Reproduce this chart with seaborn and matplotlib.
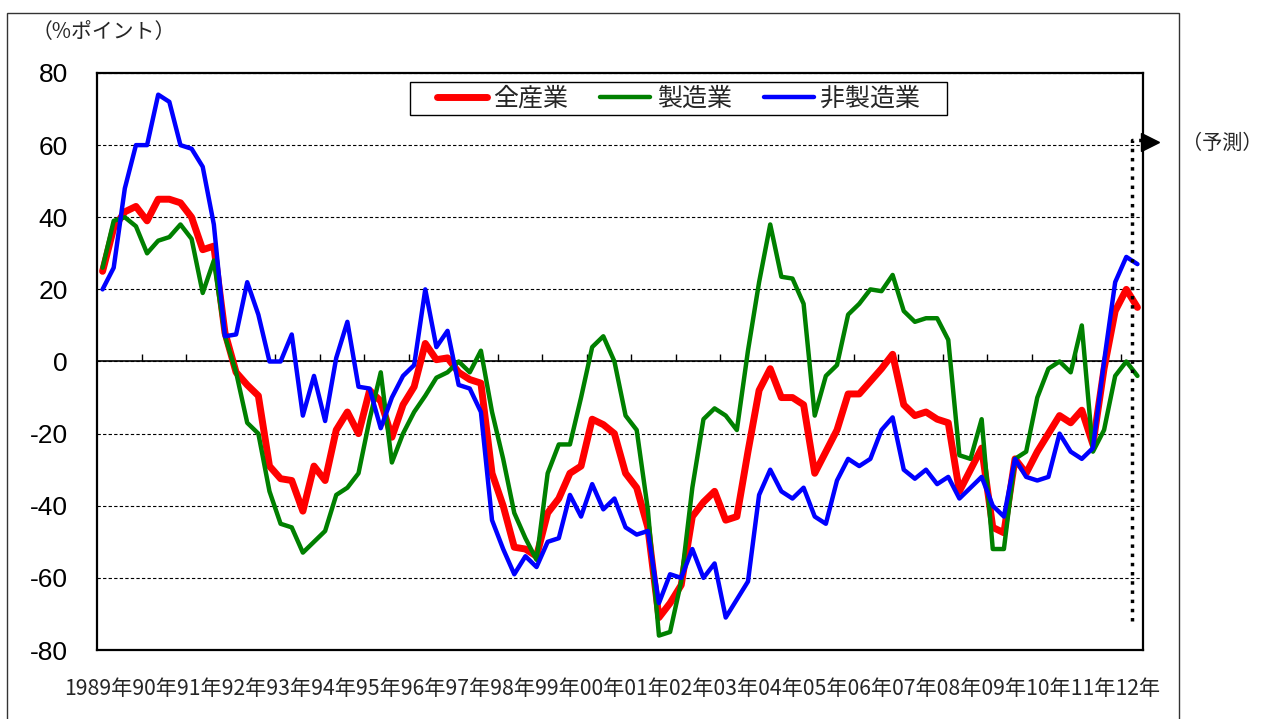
import numpy as np
import pandas as pd
import matplotlib
matplotlib.use('Agg')
import matplotlib.pyplot as plt
import seaborn as sns
from matplotlib.patches import Rectangle

# 四半期データ 1989年1Q ～ 2012年2Q（最後は予測）
quarters = np.arange(94)

zen_sangyo = [25, 37, 41.5, 43, 39, 45, 45, 44, 40, 31, 32, 8, -3, -6.5, -9.5, -29, -32.5, -33, -41.5,
              -29, -33, -19, -14, -20, -8, -11, -21, -12, -7, 5, 0.5, 1, -3, -5, -6, -31, -40, -51.5,
              -52, -54, -42, -38, -31, -29, -16, -17.5, -20, -31, -35, -46, -71, -67, -62, -43, -39, -36, -44,
              -43, -25, -8, -2, -10, -10, -12, -31, -25, -19, -9, -9, -5.5, -2, 2, -12, -15, -14, -16,
              -17, -36, -30, -24, -46, -47.5, -27, -31, -25, -20, -15, -17, -13.5, -23, -2, 14, 20, 15]

seizo = [26, 39, 40, 37.5, 30, 33.5, 34.5, 38, 34, 19, 28, 7, -3, -17, -20, -36, -45, -46, -53,
         -50, -47, -37, -35, -31, -16, -3, -28, -20, -14, -9.5, -4.5, -3, 0, -3, 3, -14, -27, -42,
         -49, -55, -31, -23, -23, -10, 4, 7, 0, -15, -19, -41, -76, -75, -61, -35, -16, -13, -15,
         -19, 3, 22, 38, 23.5, 23, 16, -15, -4, -1, 13, 16, 20, 19.5, 24, 14, 11, 12, 12,
         6, -26, -27, -16, -52, -52, -27, -25, -10, -2, 0, -3, 10, -25, -19, -4, 0, -4]

hi_seizo = [20, 26, 48, 60, 60, 74, 72, 60, 59, 54, 38, 7, 7.5, 22, 13, 0, 0, 7.5, -15,
            -4, -16.5, 1, 11, -7, -7.5, -18.5, -10, -4, -1, 20, 4, 8.5, -6.5, -7.5, -14, -44, -52, -59,
            -54, -57, -50, -49, -37, -43, -34, -41, -38, -46, -48, -47, -67, -59, -60, -52, -60, -56, -71,
            -66, -61, -37, -30, -36, -38, -35, -43, -45, -33, -27, -29, -27, -19, -15.5, -30, -32.5, -30, -34,
            -32, -38, -35, -32, -40, -43, -27, -32, -33, -32, -20, -25, -27, -24, 0, 22, 29, 27]

series_names = ['全産業', '製造業', '非製造業']
colors = ['#FF0000', '#008000', '#0000FF']
widths = [5.0, 3.2, 3.2]
year_labels = ['1989年'] + [f'{y % 100:02d}年' for y in range(1990, 2013)]
y_ticks = list(range(-80, 81, 20))

df = pd.DataFrame({'q': quarters, '全産業': zen_sangyo, '製造業': seizo, '非製造業': hi_seizo})
df = df.melt(id_vars='q', var_name='series', value_name='value')

sns.set_style('white')
plt.rcParams['font.family'] = ['Liberation Sans', 'Noto Sans CJK JP']
plt.rcParams['axes.unicode_minus'] = False
cjk = ['Noto Sans CJK JP', 'DejaVu Sans']

W, H = 1265, 719
fig = plt.figure(figsize=(W / 100, H / 100), dpi=100)
ax = fig.add_axes([97 / W, 1 - 650 / H, 1046 / W, 577 / H])

for name, c, w in zip(series_names, colors, widths):
    sns.lineplot(data=df[df['series'] == name], x='q', y='value', color=c, lw=w,
                 label=name, ax=ax, solid_joinstyle='round', solid_capstyle='round')

ax.set_xlim(-0.5, 93.5)
ax.set_ylim(-80, 80)
ax.set_xticks([])
ax.set_xlabel('')
ax.set_ylabel('')
ax.set_yticks(y_ticks, labels=[str(v) for v in y_ticks])
ax.tick_params(axis='y', length=0, pad=21, labelsize=19, labelcolor='black')
ax.grid(axis='y', color='black', linestyle=(0, (3, 2)), linewidth=0.8)
ax.set_axisbelow(True)
for s in ax.spines.values():
    s.set_visible(True)
    s.set_color('black')
    s.set_linewidth(1.6)

# 0 の軸と年の区切り
sec = ax.secondary_xaxis(0.5)
sec.set_xticks(np.arange(3.5, 92, 4))
sec.tick_params(direction='out', length=5, width=1, color='black', labeltop=False, labelbottom=False)
sec.spines['top'].set_color('black')
sec.spines['top'].set_linewidth(1.2)

# 予測の区切り
last = quarters[-1]
ax.plot([last - 0.5, last - 0.5, last + 0.5], [-72, 61.5, 61.5], ls=':', lw=2.5,
        color='black', clip_on=False)
ax.plot([last + 1.1], [61], marker='>', ms=13, color='black', clip_on=False)

leg = ax.legend(loc='center', bbox_to_anchor=(0.556, 0.956), ncol=3, frameon=True,
                fancybox=False, edgecolor='black', framealpha=1, handlelength=2.0,
                handletextpad=0.25, columnspacing=1.3, borderpad=0.05,
                prop={'family': cjk, 'size': 18})
leg.get_frame().set_linewidth(1.0)
leg.get_frame().set_boxstyle('square', pad=1.0)
leg.get_frame().set_mutation_aspect(0.1)

fig.text(32 / W, 1 - 32 / H, '（%ポイント）', family=cjk, fontsize=15, va='center', ha='left')
fig.text(1182 / W, 1 - 143 / H, '（予測）', family=cjk, fontsize=14.5, va='center', ha='left')

xt = fig.text(612 / W, 1 - 689 / H, ''.join(year_labels), family=cjk, fontsize=16,
              va='center', ha='center')
fig.canvas.draw()
tw = xt.get_window_extent().width
xt.set_fontsize(16 * 1100 / tw)

fig.add_artist(Rectangle((7 / W, -0.05), (1179 - 7) / W, 1.05 - 13 / H,
                         transform=fig.transFigure, fill=False, ec='#333333', lw=1.0))

fig.savefig('out.png', dpi=100)
